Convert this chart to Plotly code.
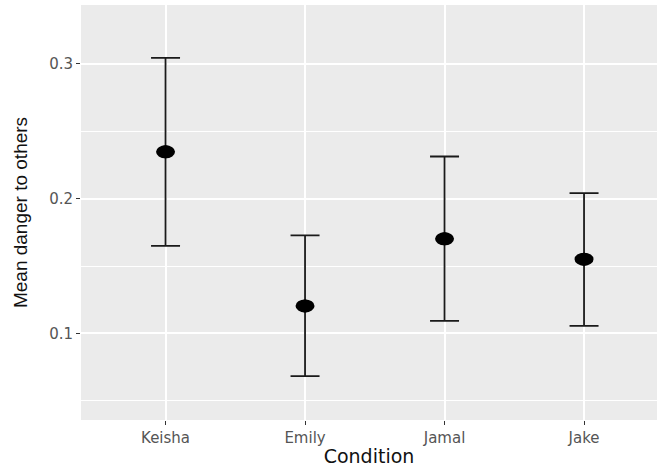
import plotly.graph_objects as go

conditions = ["Keisha", "Emily", "Jamal", "Jake"]
means = [0.2348, 0.1204, 0.1702, 0.1551]
lower = [0.1650, 0.0684, 0.1093, 0.1056]
upper = [0.3044, 0.1728, 0.2313, 0.2041]
y_tickvals = [0.1, 0.2, 0.3]
y_ticktext = ["0.1", "0.2", "0.3"]
y_minor = [0.05, 0.15, 0.25]

xpos = list(range(1, len(conditions) + 1))
err_plus = [u - m for u, m in zip(upper, means)]
err_minus = [m - l for m, l in zip(means, lower)]

fig = go.Figure()
fig.add_trace(go.Scatter(
    x=xpos, y=means, mode="markers",
    marker=dict(color="black", size=13, line=dict(width=0)),
    error_y=dict(type="data", symmetric=False, array=err_plus, arrayminus=err_minus,
                 color="#1a1a1a", thickness=1.8, width=14.5),
    showlegend=False,
))

# elliptical point shapes anchored at the data points (matches stretched look)
for xv, yv in zip(xpos, means):
    fig.add_shape(type="circle", xref="x", yref="y",
                  xsizemode="pixel", ysizemode="pixel",
                  xanchor=xv, yanchor=yv,
                  x0=-9.5, x1=9.5, y0=-6.5, y1=6.5,
                  fillcolor="black", line=dict(width=0), layer="above")

tick_font = dict(family="DejaVu Sans", size=15, color="#555555")

fig.update_layout(
    width=657, height=467,
    margin=dict(l=81, r=0, t=5, b=47),
    paper_bgcolor="white",
    plot_bgcolor="#EBEBEB",
    xaxis=dict(
        range=[0.394, 4.523],
        tickmode="array", tickvals=xpos, ticktext=conditions,
        showgrid=True, gridcolor="white", gridwidth=1.6,
        zeroline=False, showline=False,
        ticks="outside", ticklen=4, tickwidth=1.2, tickcolor="#333333",
        tickfont=tick_font,
        title=dict(text="Condition", font=dict(family="DejaVu Sans", size=19, color="#111111"), standoff=2),
        automargin=False,
    ),
    yaxis=dict(
        range=[0.0358, 0.3437],
        tickmode="array", tickvals=y_tickvals, ticktext=y_ticktext,
        showgrid=True, gridcolor="white", gridwidth=1.6,
        minor=dict(tickvals=y_minor, showgrid=True, gridcolor="white", gridwidth=0.8, ticks=""),
        zeroline=False, showline=False,
        ticks="outside", ticklen=4, tickwidth=1.2, tickcolor="#333333",
        tickfont=tick_font,
        title=dict(text="Mean danger to others", font=dict(family="Liberation Sans", size=19, color="#111111"), standoff=16),
        automargin=False,
    ),
)

fig.write_html("out.html")
